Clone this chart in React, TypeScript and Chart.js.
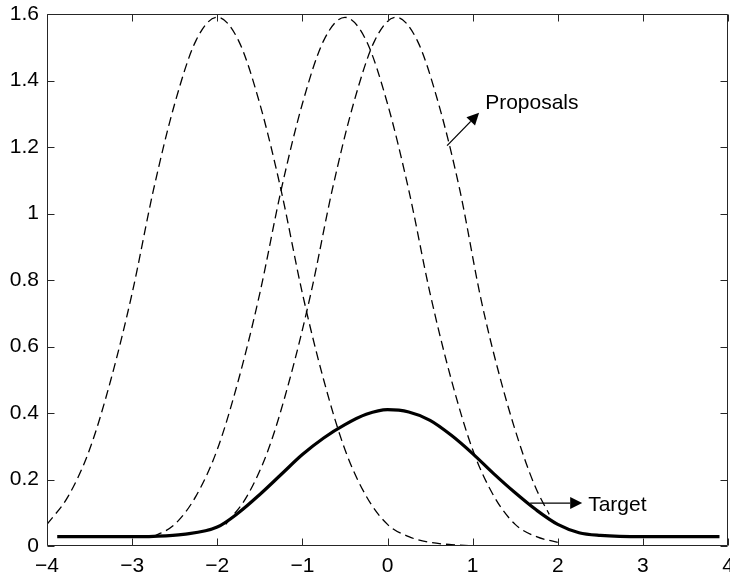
import React, { useEffect, useRef } from "react";
import { Chart, registerables } from "chart.js";

Chart.register(...registerables);

// ---- Axis ticks ----
const X_TICKS = [-4, -3, -2, -1, 0, 1, 2, 3, 4];
const Y_TICKS = [0, 0.2, 0.4, 0.6, 0.8, 1, 1.2, 1.4, 1.6];

// ---- Target density (thick solid) ----
const TARGET_X = [-3.88, -3.0, -2.75, -2.4, -2.0, -1.75, -1.5, -1.25, -1.0, -0.75, -0.5, -0.25, 0.0, 0.25, 0.5, 0.75, 1.0, 1.25, 1.5, 1.75, 2.0, 2.25, 2.5, 3.0, 3.9];
const TARGET_Y = [0.028, 0.028, 0.029, 0.035, 0.057, 0.1, 0.155, 0.215, 0.275, 0.325, 0.365, 0.396, 0.41, 0.403, 0.378, 0.333, 0.278, 0.217, 0.16, 0.108, 0.065, 0.04, 0.032, 0.028, 0.028];

// ---- Proposal centred at -2 (dashed) ----
const PROP_A_X = [-4, -3.75, -3.5, -3.25, -3, -2.75, -2.5, -2.25, -2, -1.75, -1.5, -1.25, -1, -0.75, -0.5, -0.25, 0, 0.25, 0.5, 0.75, 1.0, 1.25, 1.5, 1.75, 2.0];
const PROP_A_Y = [0.065, 0.15, 0.29, 0.5, 0.76, 1.07, 1.33, 1.52, 1.59, 1.52, 1.33, 1.07, 0.76, 0.5, 0.29, 0.15, 0.065, 0.028, 0.011, 0.004, 0.001, 0, 0, 0, 0];

// ---- Proposal centred at -0.5 (dashed) ----
const PROP_B_X = [-2.75, -2.5, -2.25, -2, -1.75, -1.5, -1.25, -1, -0.75, -0.5, -0.25, 0, 0.25, 0.5, 0.75, 1.0, 1.25, 1.5, 1.75, 2.0];
const PROP_B_Y = [0.028, 0.065, 0.15, 0.29, 0.5, 0.76, 1.07, 1.33, 1.52, 1.59, 1.52, 1.33, 1.07, 0.76, 0.5, 0.29, 0.15, 0.065, 0.028, 0.011];

// ---- Proposal centred at 0.1 (dashed) ----
const PROP_C_X = [-1.9, -1.65, -1.4, -1.15, -0.9, -0.65, -0.4, -0.15, 0.1, 0.35, 0.6, 0.85, 1.1, 1.35, 1.6, 1.75, 1.9];
const PROP_C_Y = [0.065, 0.15, 0.29, 0.5, 0.76, 1.07, 1.33, 1.52, 1.59, 1.52, 1.33, 1.07, 0.74, 0.48, 0.27, 0.17, 0.095];

// ---- Annotations (data coordinates) ----
const ANNOTATION_LABELS = ["Proposals", "Target"];
const ANNOTATION_FROM = [[0.7, 1.204], [1.676, 0.129]];
const ANNOTATION_TO = [[1.076, 1.303], [2.287, 0.129]];
const ANNOTATION_TEXT_AT = [[1.147, 1.333], [2.357, 0.123]];

const FONT_FAMILY = "'Liberation Sans', Arial, Helvetica, sans-serif";
const FONT_SIZE = 21;

const zip = (xs: number[], ys: number[]) => xs.map((x, i) => ({ x, y: ys[i] }));

const fmt = (v: number) => {
  const r = Math.round(v * 10) / 10;
  return r < 0 ? "\u2212" + String(Math.abs(r)) : String(r);
};

const framePlugin = {
  id: "matlabFrame",
  afterDraw(chart: any) {
    const { ctx, chartArea, scales } = chart;
    const L = Math.round(chartArea.left) + 0.5;
    const R = Math.round(chartArea.right) - 0.5;
    const T = Math.round(chartArea.top) + 0.5;
    const B = Math.round(chartArea.bottom) - 0.5;
    const tl = 7;
    ctx.save();
    ctx.strokeStyle = "#262626";
    ctx.lineWidth = 1;
    ctx.beginPath();
    ctx.rect(L, T, R - L, B - T);
    X_TICKS.forEach((v) => {
      const px = Math.round(scales.x.getPixelForValue(v)) + 0.5;
      ctx.moveTo(px, B);
      ctx.lineTo(px, B - tl);
      ctx.moveTo(px, T);
      ctx.lineTo(px, T + tl);
    });
    Y_TICKS.forEach((v) => {
      const py = Math.round(scales.y.getPixelForValue(v)) + 0.5;
      ctx.moveTo(L, py);
      ctx.lineTo(L + tl, py);
      ctx.moveTo(R, py);
      ctx.lineTo(R - tl, py);
    });
    ctx.stroke();
    ctx.restore();
  },
};

const annotationPlugin = {
  id: "arrowNotes",
  afterDatasetsDraw(chart: any) {
    const { ctx, scales } = chart;
    const X = (v: number) => scales.x.getPixelForValue(v);
    const Y = (v: number) => scales.y.getPixelForValue(v);
    ctx.save();
    ANNOTATION_LABELS.forEach((label, i) => {
      const x1 = X(ANNOTATION_FROM[i][0]);
      const y1 = Y(ANNOTATION_FROM[i][1]);
      const x2 = X(ANNOTATION_TO[i][0]);
      const y2 = Y(ANNOTATION_TO[i][1]);
      const ang = Math.atan2(y2 - y1, x2 - x1);
      const headLen = 12;
      const headHalf = 6;
      const bx = x2 - headLen * Math.cos(ang);
      const by = y2 - headLen * Math.sin(ang);
      ctx.strokeStyle = "#000";
      ctx.fillStyle = "#000";
      ctx.lineWidth = 1.3;
      ctx.beginPath();
      ctx.moveTo(x1, y1);
      ctx.lineTo(bx, by);
      ctx.stroke();
      ctx.beginPath();
      ctx.moveTo(x2, y2);
      ctx.lineTo(bx + headHalf * Math.sin(ang), by - headHalf * Math.cos(ang));
      ctx.lineTo(bx - headHalf * Math.sin(ang), by + headHalf * Math.cos(ang));
      ctx.closePath();
      ctx.fill();
      ctx.font = `${FONT_SIZE}px ${FONT_FAMILY}`;
      ctx.textAlign = "left";
      ctx.textBaseline = "middle";
      ctx.fillText(label, X(ANNOTATION_TEXT_AT[i][0]), Y(ANNOTATION_TEXT_AT[i][1]));
    });
    ctx.restore();
  },
};

export default function App() {
  const canvasRef = useRef<HTMLCanvasElement | null>(null);

  useEffect(() => {
    const canvas = canvasRef.current;
    if (!canvas) return;
    const dashed = {
      borderColor: "#000",
      borderWidth: 1.3,
      borderDash: [9, 5],
      pointRadius: 0,
      showLine: true,
      fill: false,
      cubicInterpolationMode: "monotone" as const,
    };
    const chart = new Chart(canvas, {
      type: "scatter",
      data: {
        datasets: [
          { label: "Proposal A", data: zip(PROP_A_X, PROP_A_Y), ...dashed },
          { label: "Proposal B", data: zip(PROP_B_X, PROP_B_Y), ...dashed },
          { label: "Proposal C", data: zip(PROP_C_X, PROP_C_Y), ...dashed },
          {
            label: "Target",
            data: zip(TARGET_X, TARGET_Y),
            borderColor: "#000",
            borderWidth: 3.2,
            pointRadius: 0,
            showLine: true,
            fill: false,
            cubicInterpolationMode: "monotone",
          },
        ],
      },
      options: {
        animation: false,
        responsive: false,
        devicePixelRatio: 1,
        layout: { padding: { top: 14, right: 2, left: 0, bottom: 0 } },
        plugins: {
          legend: { display: false },
          tooltip: { enabled: false },
        },
        scales: {
          x: {
            type: "linear",
            min: -4,
            max: 4,
            afterBuildTicks: (s: any) => {
              s.ticks = X_TICKS.map((v) => ({ value: v }));
            },
            afterFit: (s: any) => {
              s.height = 30;
              s.paddingLeft = 0;
              s.paddingRight = 0;
            },
            grid: { display: false, drawTicks: false },
            border: { display: false },
            ticks: {
              autoSkip: false,
              maxRotation: 0,
              padding: 8,
              color: "#000",
              font: { family: FONT_FAMILY, size: FONT_SIZE },
              callback: (v: any) => fmt(Number(v)),
            },
          },
          y: {
            type: "linear",
            min: 0,
            max: 1.6,
            afterBuildTicks: (s: any) => {
              s.ticks = Y_TICKS.map((v) => ({ value: v }));
            },
            afterFit: (s: any) => {
              s.width = 47;
              s.paddingTop = 0;
              s.paddingBottom = 0;
            },
            grid: { display: false, drawTicks: false },
            border: { display: false },
            ticks: {
              autoSkip: false,
              padding: 8,
              color: "#000",
              font: { family: FONT_FAMILY, size: FONT_SIZE },
              callback: (v: any) => fmt(Number(v)),
            },
          },
        },
      },
      plugins: [framePlugin, annotationPlugin],
    } as any);
    return () => chart.destroy();
  }, []);

  return (
    <div style={{ position: "fixed", left: 0, top: 0, width: 730, height: 576, background: "#fff" }}>
      <canvas ref={canvasRef} width={730} height={576} style={{ display: "block" }} />
    </div>
  );
}
